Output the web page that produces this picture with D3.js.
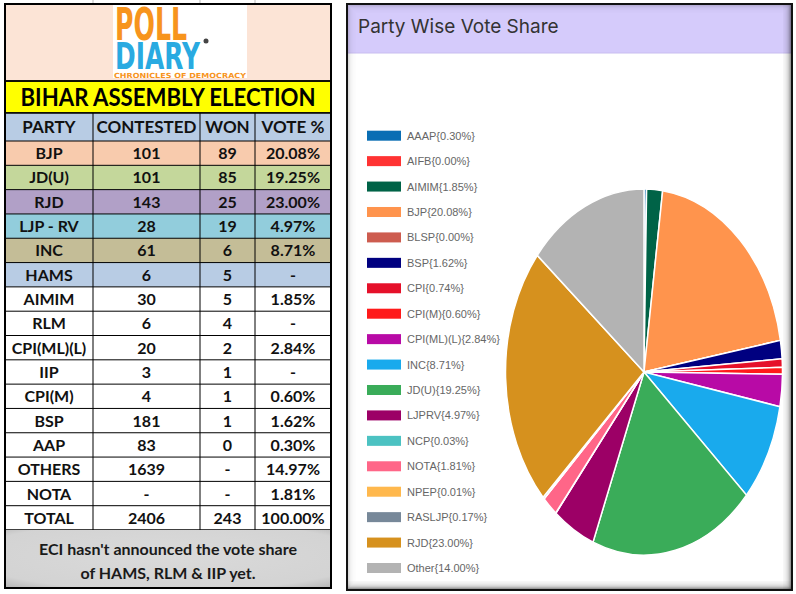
<!DOCTYPE html>
<html>
<head>
<meta charset="utf-8">
<script src="https://cdn.jsdelivr.net/npm/d3@7"></script>
<style>
  body { margin: 0; background: #fff; }
  svg { display: block; }
</style>
</head>
<body>
<script>
// table data
const parties = ["BJP", "JD(U)", "RJD", "LJP - RV", "INC", "HAMS", "AIMIM", "RLM", "CPI(ML)(L)", "IIP", "CPI(M)", "BSP", "AAP", "OTHERS", "NOTA", "TOTAL"];
const contested = ["101", "101", "143", "28", "61", "6", "30", "6", "20", "3", "4", "181", "83", "1639", "-", "2406"];
const won = ["89", "85", "25", "19", "6", "5", "5", "4", "2", "1", "1", "1", "0", "-", "-", "243"];
const votePct = ["20.08%", "19.25%", "23.00%", "4.97%", "8.71%", "-", "1.85%", "-", "2.84%", "-", "0.60%", "1.62%", "0.30%", "14.97%", "1.81%", "100.00%"];
const headers = ["PARTY", "CONTESTED", "WON", "VOTE %"];

// pie data
const pieLabels = ["AAAP", "AIFB", "AIMIM", "BJP", "BLSP", "BSP", "CPI", "CPI(M)", "CPI(ML)(L)", "INC", "JD(U)", "LJPRV", "NCP", "NOTA", "NPEP", "RASLJP", "RJD", "Other"];
const pieValues = [0.30, 0.00, 1.85, 20.08, 0.00, 1.62, 0.74, 0.60, 2.84, 8.71, 19.25, 4.97, 0.03, 1.81, 0.01, 0.17, 23.00, 14.00];
const pieColors = ["#0a6eb4", "#ff3333", "#006347", "#ff944d", "#cd5c4f", "#000080", "#e5102a", "#ff1a1a", "#b80aa6", "#19aaed", "#3aac59", "#9c0066", "#4cc2c2", "#ff6688", "#ffb84d", "#778899", "#d6911e", "#b3b3b3"];

const rowFill = {"BJP": "#f8cbad", "JD(U)": "#c4d79b", "RJD": "#b1a0c7", "LJP - RV": "#92cddc", "INC": "#c4bd97", "HAMS": "#b8cce4"};

const W = 796, H = 594;
const svg = d3.select("body").append("svg").attr("width", W).attr("height", H);
const defs = svg.append("defs");

// ---------- left: table ----------
const colX = [5, 93, 200, 255, 331];
const tblFont = "Lato, 'Open Sans', sans-serif";
const left = svg.append("g");

left.append("line").attr("x1", 5).attr("x2", 331).attr("y1", 3.5).attr("y2", 3.5).attr("stroke", "#999");
[93, 200, 255].forEach(x => left.append("line").attr("x1", x).attr("x2", x).attr("y1", 0).attr("y2", 4).attr("stroke", "#bbb"));

// logo block
left.append("rect").attr("x", 5).attr("y", 4).attr("width", 326).attr("height", 77).attr("fill", "#fce4d6");
const logo = left.append("g");
logo.append("rect").attr("x", 113).attr("y", 4).attr("width", 134).attr("height", 74).attr("fill", "#fff");
logo.append("text").attr("x", 115).attr("y", 40).attr("textLength", 72).attr("lengthAdjust", "spacingAndGlyphs")
  .attr("font-family", "'DejaVu Sans', sans-serif").attr("font-weight", "bold").attr("font-size", 44)
  .attr("fill", "#f7941d").text("POLL");
logo.append("text").attr("x", 115).attr("y", 68.5).attr("textLength", 85).attr("lengthAdjust", "spacingAndGlyphs")
  .attr("font-family", "'DejaVu Sans', sans-serif").attr("font-weight", "bold").attr("font-size", 37)
  .attr("fill", "#29aae1").text("DIARY");
logo.append("circle").attr("cx", 206).attr("cy", 41).attr("r", 2.5).attr("fill", "#444");
logo.append("text").attr("x", 114).attr("y", 77.5).attr("textLength", 132).attr("lengthAdjust", "spacingAndGlyphs")
  .attr("font-family", "'DejaVu Sans', sans-serif").attr("font-weight", "bold").attr("font-size", 7)
  .attr("fill", "#f7941d").text("CHRONICLES OF DEMOCRACY");

// title bar
left.append("rect").attr("x", 5).attr("y", 81).attr("width", 326).attr("height", 32).attr("fill", "#ffff00")
  .attr("stroke", "#000").attr("stroke-width", 1.5);
left.append("text").attr("x", 168).attr("y", 106).attr("text-anchor", "middle")
  .attr("font-family", tblFont).attr("font-weight", "bold").attr("font-size", 25)
  .attr("textLength", 295).attr("lengthAdjust", "spacingAndGlyphs")
  .attr("fill", "#000").text("BIHAR ASSEMBLY ELECTION");

// header row
left.append("rect").attr("x", 5).attr("y", 113).attr("width", 326).attr("height", 28).attr("fill", "#b8cce4");
headers.forEach((h, i) => {
  left.append("text").attr("x", (colX[i] + colX[i + 1]) / 2).attr("y", 133).attr("text-anchor", "middle")
    .attr("font-family", tblFont).attr("font-weight", "bold").attr("font-size", 17).attr("fill", "#111").text(h);
});

const yRow = d3.scaleBand().domain(parties).range([141, 530]);

const rows = left.selectAll("g.row").data(parties).join("g").attr("class", "row")
  .attr("transform", d => `translate(0,${yRow(d)})`);
rows.append("rect").attr("x", 5).attr("width", 326).attr("height", yRow.bandwidth())
  .attr("fill", d => rowFill[d] || "#fff");
rows.each(function (d, i) {
  const g = d3.select(this);
  [d, contested[i], won[i], votePct[i]].forEach((v, c) => {
    g.append("text").attr("x", (colX[c] + colX[c + 1]) / 2).attr("y", yRow.bandwidth() / 2 + 6)
      .attr("text-anchor", "middle").attr("font-family", tblFont).attr("font-weight", "bold")
      .attr("font-size", 16).attr("fill", "#111").text(v);
  });
});

// grid lines
parties.forEach(p => {
  left.append("line").attr("x1", 5).attr("x2", 331).attr("y1", yRow(p)).attr("y2", yRow(p)).attr("stroke", "#000").attr("stroke-width", 1);
});
left.append("line").attr("x1", 5).attr("x2", 331).attr("y1", 530).attr("y2", 530).attr("stroke", "#000").attr("stroke-width", 1.5);
colX.slice(1, 4).forEach(x => {
  left.append("line").attr("x1", x).attr("x2", x).attr("y1", 113).attr("y2", 530).attr("stroke", "#000").attr("stroke-width", 1);
});

// footer note
const fg = defs.append("radialGradient").attr("id", "foot").attr("cx", "50%").attr("cy", "45%").attr("r", "80%");
fg.append("stop").attr("offset", "0%").attr("stop-color", "#dadada");
fg.append("stop").attr("offset", "75%").attr("stop-color", "#d3d3d3");
fg.append("stop").attr("offset", "100%").attr("stop-color", "#a8a8a8");
left.append("rect").attr("x", 5).attr("y", 530).attr("width", 326).attr("height", 58).attr("fill", "url(#foot)");
left.append("text").attr("x", 168).attr("y", 555).attr("text-anchor", "middle").attr("font-family", tblFont)
  .attr("font-weight", "bold").attr("font-size", 16).attr("fill", "#1a1a1a").text("ECI hasn't announced the vote share");
left.append("text").attr("x", 168).attr("y", 579).attr("text-anchor", "middle").attr("font-family", tblFont)
  .attr("font-weight", "bold").attr("font-size", 16).attr("fill", "#1a1a1a").text("of HAMS, RLM & IIP yet.");

// outer border
left.append("rect").attr("x", 5).attr("y", 4).attr("width", 326).attr("height", 584)
  .attr("fill", "none").attr("stroke", "#000").attr("stroke-width", 2);
left.append("line").attr("x1", 5).attr("x2", 331).attr("y1", 113).attr("y2", 113).attr("stroke", "#000").attr("stroke-width", 1.5);
left.append("line").attr("x1", 5).attr("x2", 331).attr("y1", 81).attr("y2", 81).attr("stroke", "#000").attr("stroke-width", 1.5);

// ---------- right: pie card ----------
const card = svg.append("g");
const cx0 = 347, cy0 = 4, cw = 445, ch = 586;
card.append("rect").attr("x", cx0).attr("y", cy0).attr("width", cw).attr("height", ch).attr("fill", "#fff");
card.append("rect").attr("x", cx0).attr("y", cy0).attr("width", cw).attr("height", 49).attr("fill", "#d5cbfb");
card.append("line").attr("x1", cx0).attr("x2", cx0 + cw).attr("y1", 53).attr("y2", 53).attr("stroke", "#c8bdf0");
card.append("text").attr("x", 358).attr("y", 33).attr("font-family", "Inter, 'Open Sans', sans-serif")
  .attr("font-size", 19).attr("fill", "#333").text("Party Wise Vote Share");

// inner shadow, heavier on right and bottom
d3.range(9).forEach(i => {
  card.append("rect").attr("x", cx0 + i + 0.5).attr("y", cy0 + i + 0.5)
    .attr("width", cw - 2 * i - 1).attr("height", ch - 2 * i - 1)
    .attr("fill", "none").attr("stroke", "#000").attr("stroke-opacity", 0.22 * Math.pow(0.65, i));
});
d3.range(8).forEach(i => {
  const op = 0.3 * Math.pow(0.7, i);
  card.append("line").attr("x1", cx0 + cw - 1.5 - i).attr("x2", cx0 + cw - 1.5 - i)
    .attr("y1", cy0).attr("y2", cy0 + ch).attr("stroke", "#000").attr("stroke-opacity", op);
  card.append("line").attr("y1", cy0 + ch - 1.5 - i).attr("y2", cy0 + ch - 1.5 - i)
    .attr("x1", cx0).attr("x2", cx0 + cw).attr("stroke", "#000").attr("stroke-opacity", op);
});
card.append("rect").attr("x", cx0).attr("y", cy0).attr("width", cw).attr("height", ch)
  .attr("fill", "none").attr("stroke", "#111").attr("stroke-width", 2);

// legend
const yLeg = d3.scalePoint().domain(pieLabels).range([135.7, 568]);
const leg = card.selectAll("g.leg").data(pieLabels).join("g").attr("class", "leg")
  .attr("transform", d => `translate(367,${yLeg(d)})`);
leg.append("rect").attr("x", 0).attr("y", -5).attr("width", 34).attr("height", 10)
  .attr("fill", (d, i) => pieColors[i]);
leg.append("text").attr("x", 40).attr("y", 4).attr("font-family", "'Liberation Sans', Arial, sans-serif")
  .attr("font-size", 11).attr("fill", "#666")
  .text((d, i) => `${d}{${pieValues[i].toFixed(2)}%}`);

// pie (elliptical)
const rx = 138.5, ry = 183;
const pie = d3.pie().sort(null).value(d => d)(pieValues);
const arc = d3.arc().innerRadius(0).outerRadius(rx);
card.append("g").attr("transform", `translate(644,372) scale(1,${ry / rx})`)
  .selectAll("path").data(pie).join("path")
  .attr("d", arc).attr("fill", (d, i) => pieColors[i])
  .attr("stroke", "#fff").attr("stroke-width", 1.5).attr("vector-effect", "non-scaling-stroke");
</script>
</body>
</html>
